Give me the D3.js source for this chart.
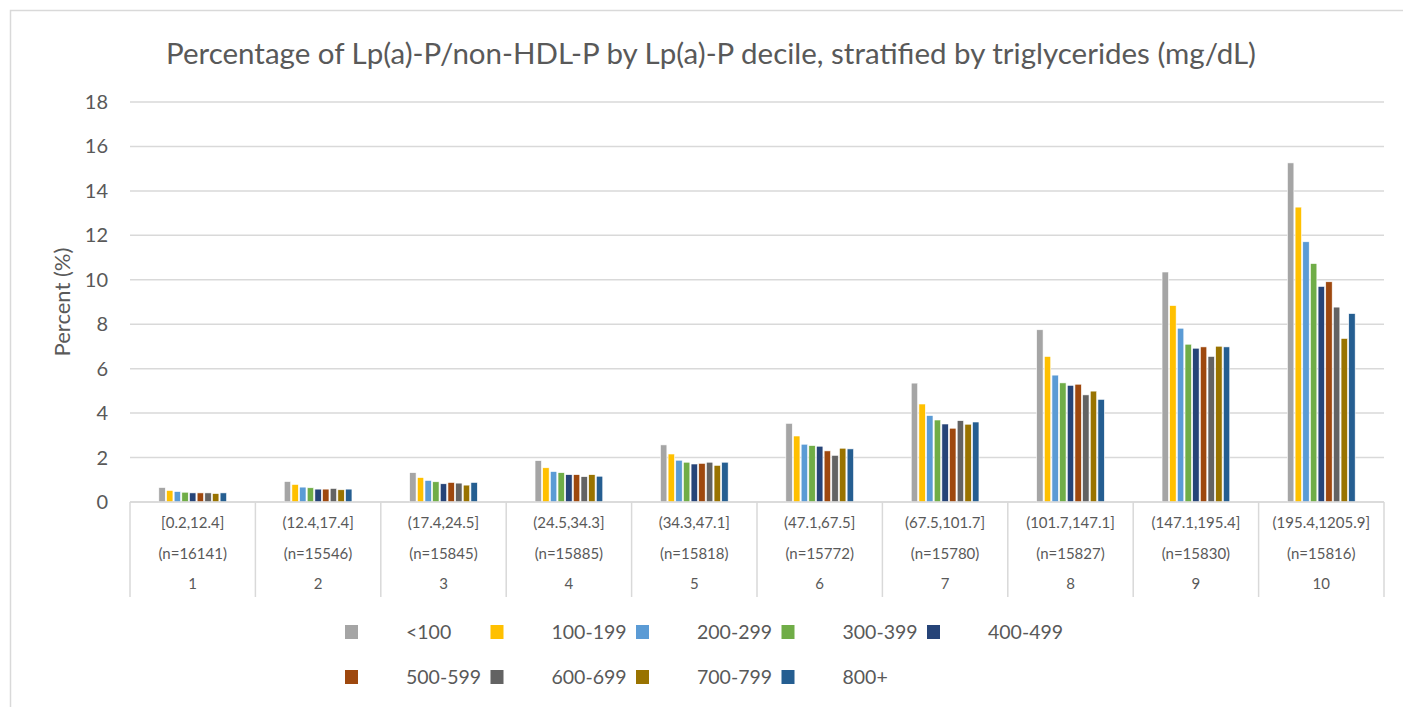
<!DOCTYPE html>
<html>
<head>
<meta charset="utf-8">
<script src="https://cdn.jsdelivr.net/npm/d3@7"></script>
<style>
  body { margin: 0; background: #fff; }
  text { font-family: Lato, "Open Sans", sans-serif; fill: #595959; }
</style>
</head>
<body>
<script>
// data
var deciles = ["1", "2", "3", "4", "5", "6", "7", "8", "9", "10"]
var intervals = ["[0.2,12.4]", "(12.4,17.4]", "(17.4,24.5]", "(24.5,34.3]", "(34.3,47.1]",
                 "(47.1,67.5]", "(67.5,101.7]", "(101.7,147.1]", "(147.1,195.4]", "(195.4,1205.9]"]
var counts = ["(n=16141)", "(n=15546)", "(n=15845)", "(n=15885)", "(n=15818)",
              "(n=15772)", "(n=15780)", "(n=15827)", "(n=15830)", "(n=15816)"]
var series = ["<100", "100-199", "200-299", "300-399", "400-499", "500-599", "600-699", "700-799", "800+"]
var colors = ["#A5A5A5", "#FFC000", "#5B9BD5", "#70AD47", "#264478", "#9E480E", "#636363", "#997300", "#255E91"]
var yTicks = [0, 2, 4, 6, 8, 10, 12, 14, 16, 18]

// one array per triglyceride band, values per decile
var tg100 = [0.65, 0.92, 1.32, 1.86, 2.57, 3.54, 5.35, 7.75, 10.35, 15.26]
var tg199 = [0.52, 0.79, 1.10, 1.54, 2.16, 2.97, 4.41, 6.55, 8.84, 13.27]
var tg299 = [0.47, 0.67, 0.97, 1.37, 1.88, 2.60, 3.89, 5.71, 7.82, 11.71]
var tg399 = [0.44, 0.64, 0.91, 1.32, 1.79, 2.54, 3.69, 5.36, 7.10, 10.73]
var tg499 = [0.41, 0.58, 0.82, 1.23, 1.71, 2.51, 3.51, 5.25, 6.92, 9.70]
var tg599 = [0.41, 0.58, 0.88, 1.23, 1.74, 2.30, 3.32, 5.30, 6.98, 9.91]
var tg699 = [0.41, 0.61, 0.85, 1.14, 1.79, 2.10, 3.66, 4.82, 6.55, 8.77]
var tg799 = [0.38, 0.55, 0.76, 1.23, 1.65, 2.42, 3.50, 4.99, 7.01, 7.36]
var tg800 = [0.41, 0.58, 0.88, 1.16, 1.79, 2.39, 3.60, 4.62, 6.98, 8.48]
var values = [tg100, tg199, tg299, tg399, tg499, tg599, tg699, tg799, tg800]

var width = 1403
var height = 707
var margin = { top: 102, bottom: 205, left: 130, right: 19 }

var svg = d3.select("body")
  .append("svg")
  .attr("width", width)
  .attr("height", height)

// chart outer border
svg.append("rect")
  .attr("x", 10.5).attr("y", 10.5)
  .attr("width", width + 20).attr("height", height + 20)
  .attr("fill", "none")
  .attr("stroke", "#d9d9d9")
  .attr("stroke-width", 1.5)

var x = d3.scaleBand()
  .domain(deciles)
  .range([margin.left, width - margin.right])

var y = d3.scaleLinear()
  .domain([0, 18])
  .range([height - margin.bottom, margin.top])

var inner = d3.scaleBand()
  .domain(series)
  .range([x.bandwidth() * 0.23, x.bandwidth() * 0.77])
  .paddingInner(0.16)

// gridlines
svg.append("g")
  .selectAll("line")
  .data(yTicks)
  .enter()
  .append("line")
  .attr("x1", margin.left)
  .attr("x2", width - margin.right)
  .attr("y1", d => y(d))
  .attr("y2", d => y(d))
  .attr("stroke", "#d9d9d9")
  .attr("stroke-width", 1.5)

// y tick labels
svg.append("g")
  .selectAll("text")
  .data(yTicks)
  .enter()
  .append("text")
  .attr("x", margin.left - 22)
  .attr("y", d => y(d))
  .attr("dy", "0.35em")
  .attr("text-anchor", "end")
  .style("font-size", "20px")
  .text(d => d)

// bars
var groups = svg.append("g")
  .selectAll("g")
  .data(series)
  .enter()
  .append("g")
  .attr("fill", (d, i) => colors[i])

groups.selectAll("rect")
  .data((s, i) => values[i].map((v, j) => ({ s: s, d: deciles[j], v: v })))
  .enter()
  .append("rect")
  .attr("x", d => x(d.d) + inner(d.s))
  .attr("y", d => y(d.v))
  .attr("width", inner.bandwidth())
  .attr("height", d => y(0) - y(d.v))
  .attr("stroke", "#fff")
  .attr("stroke-width", 0.6)

// category axis with three label rows
var axisBottom = y(0)
var axisEnd = axisBottom + 95
var cat = svg.append("g")

cat.append("line")
  .attr("x1", margin.left).attr("x2", width - margin.right)
  .attr("y1", axisBottom).attr("y2", axisBottom)
  .attr("stroke", "#d9d9d9").attr("stroke-width", 1.5)

cat.selectAll("line.sep")
  .data(deciles.concat(["end"]))
  .enter()
  .append("line")
  .attr("class", "sep")
  .attr("x1", (d, i) => i < deciles.length ? x(d) : x.range()[1])
  .attr("x2", (d, i) => i < deciles.length ? x(d) : x.range()[1])
  .attr("y1", axisBottom)
  .attr("y2", axisEnd)
  .attr("stroke", "#d9d9d9").attr("stroke-width", 1.5)

var rows = [intervals, counts, deciles]
var rowY = [21, 52, 82]
rows.forEach(function(labels, r) {
  cat.selectAll("text.r" + r)
    .data(deciles)
    .enter()
    .append("text")
    .attr("class", "r" + r)
    .attr("x", d => x(d) + x.bandwidth() / 2)
    .attr("y", axisBottom + rowY[r])
    .attr("dy", "0.35em")
    .attr("text-anchor", "middle")
    .style("font-size", "15px")
    .text((d, i) => labels[i])
})

// title
svg.append("text")
  .attr("x", 711)
  .attr("y", 54)
  .attr("dy", "0.35em")
  .attr("text-anchor", "middle")
  .style("font-size", "29.5px")
  .text("Percentage of Lp(a)-P/non-HDL-P by Lp(a)-P decile, stratified by triglycerides (mg/dL)")

// y axis title
svg.append("text")
  .attr("transform", "translate(62," + ((y(0) + y(18)) / 2) + ") rotate(-90)")
  .attr("dy", "0.35em")
  .attr("text-anchor", "middle")
  .style("font-size", "22px")
  .text("Percent (%)")

// legend
var legend = svg.append("g")
  .selectAll("g")
  .data(series)
  .enter()
  .append("g")
  .attr("transform", (d, i) => "translate(" + (345 + (i % 5) * 145.5) + "," + (632 + Math.floor(i / 5) * 45) + ")")

legend.append("rect")
  .attr("x", 0).attr("y", -7)
  .attr("width", 13).attr("height", 14)
  .attr("fill", (d, i) => colors[i])

legend.append("text")
  .attr("x", 61)
  .attr("dy", "0.35em")
  .style("font-size", "19.5px")
  .text(d => d)
</script>
</body>
</html>
